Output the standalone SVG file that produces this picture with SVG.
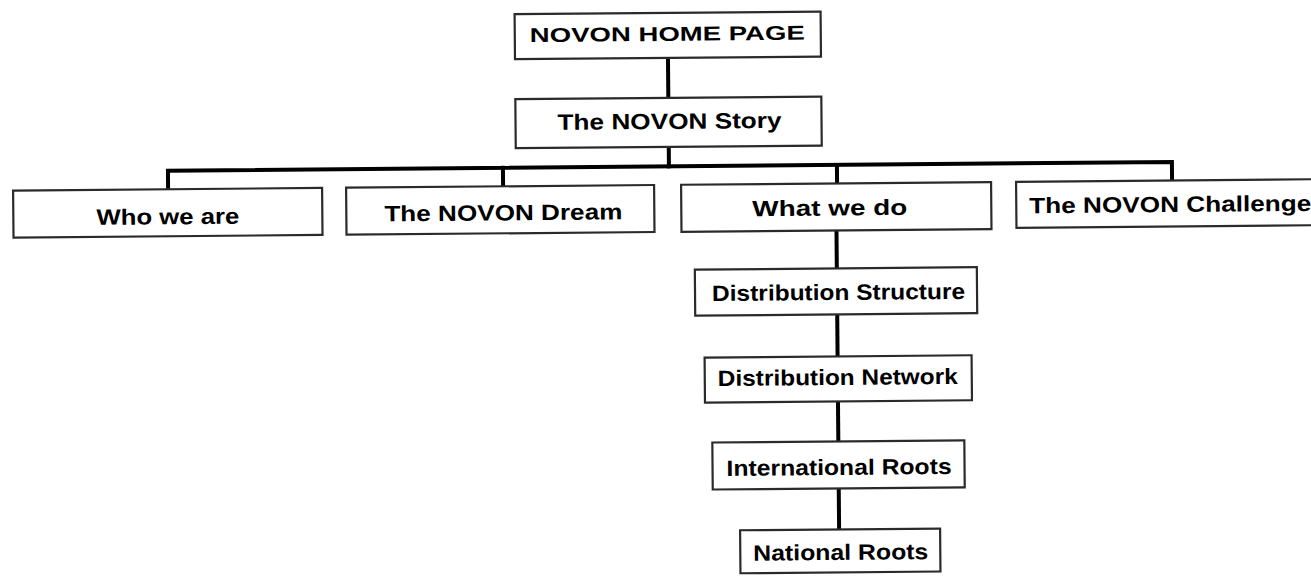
<svg xmlns="http://www.w3.org/2000/svg" width="1311" height="578" viewBox="0 0 1311 578">
<style>
.box{fill:#fff;stroke:#2a2a2a;stroke-width:2.2}
.lbl{font-family:"Liberation Sans",Arial,sans-serif;font-weight:bold;font-size:22px;fill:#000}
.con{fill:none;stroke:#000;stroke-width:4;stroke-linecap:square;stroke-linejoin:miter}
</style>
<rect width="1311" height="578" fill="#fff"/>
<g transform="rotate(-0.5 655 290)">
<g id="connectors">
<path class="con" d="M670 58V98"/>
<path class="con" d="M670 147V166.5"/>
<path class="con" d="M169 185V166.5H1173V185"/>
<path class="con" d="M504 166.5V185"/>
<path class="con" d="M838 166.5V185"/>
<path class="con" d="M837 232V270"/>
<path class="con" d="M837 316V358"/>
<path class="con" d="M837 403V443"/>
<path class="con" d="M837 490V531"/>
</g>
<g id="home"><rect class="box" x="517" y="13" width="306" height="45"/><text class="lbl" style="font-size:20px" x="532" y="41" textLength="275" lengthAdjust="spacingAndGlyphs">NOVON HOME PAGE</text></g>
<g id="story"><rect class="box" x="517" y="98" width="306" height="49"/><text class="lbl" x="559" y="129" textLength="224" lengthAdjust="spacingAndGlyphs">The NOVON Story</text></g>
<g id="who"><rect class="box" x="14" y="185" width="309" height="47"/><text class="lbl" x="97" y="220" textLength="143" lengthAdjust="spacingAndGlyphs">Who we are</text></g>
<g id="dream"><rect class="box" x="347" y="185" width="308" height="47"/><text class="lbl" x="385" y="219" textLength="238" lengthAdjust="spacingAndGlyphs">The NOVON Dream</text></g>
<g id="what"><rect class="box" x="682" y="185" width="310" height="47"/><text class="lbl" x="753" y="217" textLength="155" lengthAdjust="spacingAndGlyphs">What we do</text></g>
<g id="challenge"><rect class="box" x="1017" y="185" width="310" height="46"/><text class="lbl" x="1030" y="216.5" textLength="282" lengthAdjust="spacingAndGlyphs">The NOVON Challenge</text></g>
<g id="structure"><rect class="box" x="695" y="270" width="282" height="46"/><text class="lbl" x="712" y="301.5" textLength="253" lengthAdjust="spacingAndGlyphs">Distribution Structure</text></g>
<g id="network"><rect class="box" x="704" y="358" width="267" height="45"/><text class="lbl" x="717" y="386.5" textLength="240" lengthAdjust="spacingAndGlyphs">Distribution Network</text></g>
<g id="international"><rect class="box" x="711" y="443" width="252" height="47"/><text class="lbl" x="725" y="476.5" textLength="225" lengthAdjust="spacingAndGlyphs">International Roots</text></g>
<g id="national"><rect class="box" x="738" y="531" width="200" height="43"/><text class="lbl" x="751" y="561.5" textLength="175" lengthAdjust="spacingAndGlyphs">National Roots</text></g>
</g>
</svg>
